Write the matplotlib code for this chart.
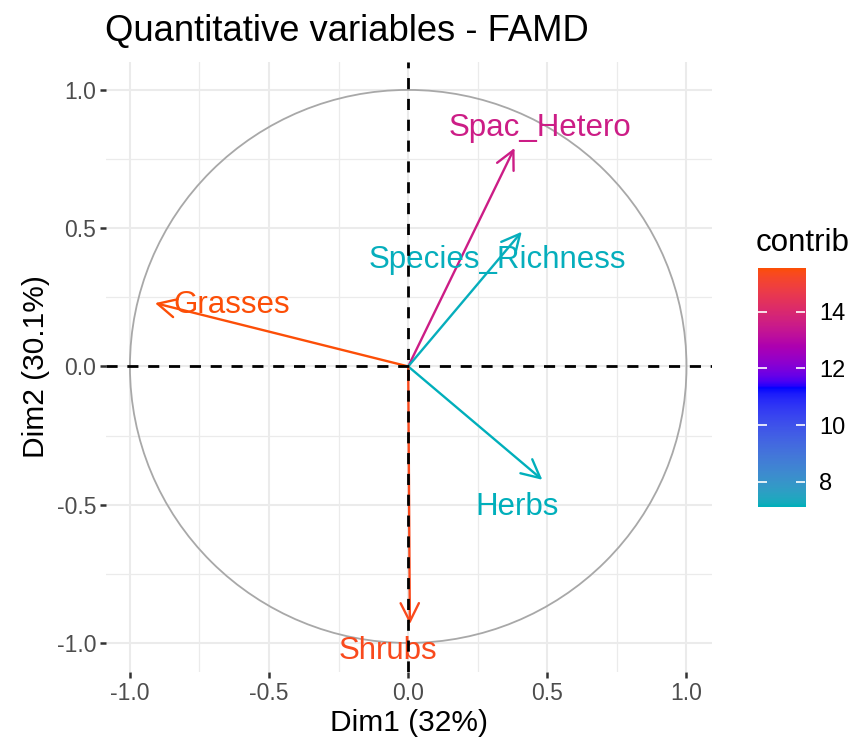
import numpy as np
import matplotlib
matplotlib.use("Agg")
import matplotlib.pyplot as plt
from matplotlib.colors import ListedColormap, Normalize, to_rgb
from matplotlib.patches import Circle

plt.rcParams['font.family'] = ['Liberation Sans', 'DejaVu Sans']

# variables, coordinates on Dim1/Dim2 and contributions
variables = ["Spac_Hetero", "Species_Richness", "Grasses", "Herbs", "Shrubs"]
dim1 = [0.382, 0.408, -0.910, 0.482, 0.006]
dim2 = [0.790, 0.487, 0.229, -0.410, -0.932]
contrib = [13.6, 7.15, 15.55, 7.10, 15.36]
# where the labels were placed (data coordinates)
label_x = [0.474, 0.320, -0.636, 0.391, -0.072]
label_y = [0.862, 0.384, 0.221, -0.507, -1.029]

ticks = [-1.0, -0.5, 0.0, 0.5, 1.0]
minor_ticks = [-0.75, -0.25, 0.25, 0.75]
cbar_ticks = [8, 10, 12, 14]
grad_cols = ["#00AFBB", "blue", "#FC4E07"]


# ggplot interpolates colour ramps in CIELAB, do the same here
def srgb_to_lab(c):
    c = np.asarray(c, float)
    lin = np.where(c <= 0.04045, c / 12.92, ((c + 0.055) / 1.055) ** 2.4)
    M = np.array([[0.4124, 0.3576, 0.1805],
                  [0.2126, 0.7152, 0.0722],
                  [0.0193, 0.1192, 0.9505]])
    xyz = M @ lin / np.array([0.95047, 1.0, 1.08883])
    f = np.where(xyz > 0.008856, np.cbrt(xyz), 7.787 * xyz + 16 / 116)
    return np.array([116 * f[1] - 16, 500 * (f[0] - f[1]), 200 * (f[1] - f[2])])


def lab_to_srgb(lab):
    L, a, b = lab
    fy = (L + 16) / 116
    fx = fy + a / 500
    fz = fy - b / 200
    f = np.array([fx, fy, fz])
    xyz = np.where(f ** 3 > 0.008856, f ** 3, (f - 16 / 116) / 7.787)
    xyz = xyz * np.array([0.95047, 1.0, 1.08883])
    Minv = np.array([[3.2406, -1.5372, -0.4986],
                     [-0.9689, 1.8758, 0.0415],
                     [0.0557, -0.2040, 1.0570]])
    lin = Minv @ xyz
    c = np.where(lin <= 0.0031308, 12.92 * lin, 1.055 * np.clip(lin, 0, None) ** (1 / 2.4) - 0.055)
    return np.clip(c, 0, 1)


labs = [srgb_to_lab(to_rgb(c)) for c in grad_cols]
cols = []
for t in np.linspace(0, 1, 256):
    if t <= 0.5:
        u = t / 0.5
        lab = labs[0] * (1 - u) + labs[1] * u
    else:
        u = (t - 0.5) / 0.5
        lab = labs[1] * (1 - u) + labs[2] * u
    cols.append(lab_to_srgb(lab))
cmap = ListedColormap(cols)
norm = Normalize(vmin=min(contrib), vmax=max(contrib))

fig = plt.figure(figsize=(8.5, 7.44), dpi=100)
ax = fig.add_axes([0.1247, 0.0968, 0.7129, 0.8199])
ax.set_facecolor("white")

ax.set_xticks(ticks)
ax.set_yticks(ticks)
ax.set_xticks(minor_ticks, minor=True)
ax.set_yticks(minor_ticks, minor=True)
ax.grid(True, which="major", color="#EBEBEB", linewidth=1.5, zorder=0)
ax.grid(True, which="minor", color="#EBEBEB", linewidth=0.9, zorder=0)
ax.set_axisbelow(True)
for s in ax.spines.values():
    s.set_visible(False)
ax.tick_params(which="major", length=4, width=1.8, color="#333333",
               labelsize=16.5, labelcolor="#4D4D4D", pad=3)
ax.tick_params(which="minor", length=0)
ax.set_xticklabels(["%.1f" % t for t in ticks])
ax.set_yticklabels(["%.1f" % t for t in ticks])

ax.add_patch(Circle((0, 0), 1, fill=False, edgecolor="#A8A8A8", linewidth=1.3, zorder=1))

for i, name in enumerate(variables):
    col = cmap(norm(contrib[i]))
    ax.annotate("", xy=(dim1[i], dim2[i]), xytext=(0, 0),
                arrowprops=dict(arrowstyle="->,head_length=0.6,head_width=0.3",
                                color=col, lw=1.7, mutation_scale=22,
                                shrinkA=0, shrinkB=0),
                zorder=3)
    ax.text(label_x[i], label_y[i], name, color=col, fontsize=22.5,
            ha="center", va="center", zorder=4)

ax.axhline(0, color="black", linestyle=(0, (4, 3.5)), linewidth=2, zorder=5)
ax.axvline(0, color="black", linestyle=(0, (4, 3.5)), linewidth=2, zorder=5)

ax.set_xlim(-1.086, 1.0915)
ax.set_ylim(-1.105, 1.101)

ax.set_xlabel("Dim1 (32%)", fontsize=21.5, color="black", labelpad=3)
ax.set_ylabel("Dim2 (30.1%)", fontsize=21.5, color="black", labelpad=5)
fig.text(0.1235, 0.958, "Quantitative variables - FAMD", fontsize=26.2,
         ha="left", va="center")

# colour bar
cax = fig.add_axes([0.8918, 0.3185, 0.0553, 0.3212])
grad = np.linspace(norm.vmin, norm.vmax, 300).reshape(-1, 1)
cax.imshow(grad, aspect="auto", cmap=cmap, norm=norm, origin="lower",
           extent=[0, 1, norm.vmin, norm.vmax])
cax.set_xlim(0, 1)
cax.set_ylim(norm.vmin, norm.vmax)
cax.hlines(cbar_ticks, 0, 0.2, color="white", linewidth=1.2)
cax.hlines(cbar_ticks, 0.8, 1, color="white", linewidth=1.2)
cax.set_xticks([])
cax.yaxis.tick_right()
cax.set_yticks(cbar_ticks)
cax.tick_params(axis="y", length=0, labelsize=17, labelcolor="black", pad=10)
for s in cax.spines.values():
    s.set_visible(False)
fig.text(0.889, 0.674, "contrib", fontsize=22.5, ha="left", va="center")

fig.savefig("out.png", dpi=100, facecolor="white")
